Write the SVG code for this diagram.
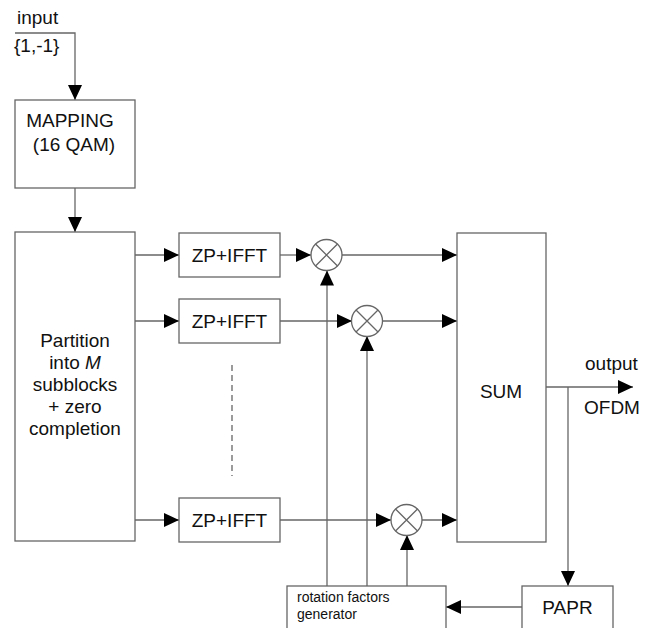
<svg xmlns="http://www.w3.org/2000/svg" width="650" height="628" viewBox="0 0 650 628">
  <defs>
    <marker id="arrow" markerUnits="userSpaceOnUse" markerWidth="15" markerHeight="14" refX="15" refY="7" orient="auto">
      <path d="M0,0 L15,7 L0,14 z" fill="#000"/>
    </marker>
    <style>
      .box { fill: #fff; stroke: #666; stroke-width: 1.3; }
      .wire { fill: none; stroke: #666; stroke-width: 1.3; }
      .arr { fill: none; stroke: #666; stroke-width: 1.3; marker-end: url(#arrow); }
      .dash { fill: none; stroke: #666; stroke-width: 1.3; stroke-dasharray: 6 4; }
      .lbl { font-family: "Liberation Sans", Arial, sans-serif; font-size: 19px; fill: #111; }
      .small { font-family: "Liberation Sans", Arial, sans-serif; font-size: 14px; fill: #111; }
      .mid { text-anchor: middle; }
    </style>
  </defs>

  <rect width="650" height="628" fill="#fff"/>

  <!-- connectors -->
  <g id="connectors">
    <path class="arr" d="M15,33 H75 V100"/>
    <path class="arr" d="M75,188 V232"/>
    <path class="arr" d="M135,255 H179"/>
    <path class="arr" d="M135,321 H179"/>
    <path class="arr" d="M135,520 H179"/>
    <path class="dash" d="M232,365 V476"/>
    <path class="arr" d="M280,255 H311"/>
    <path class="arr" d="M280,321 H352"/>
    <path class="arr" d="M280,520 H391"/>
    <path class="arr" d="M342,255 H457"/>
    <path class="arr" d="M382,321 H457"/>
    <path class="arr" d="M422,520 H457"/>
    <path class="arr" d="M327,586 V270.5"/>
    <path class="arr" d="M367,586 V336"/>
    <path class="arr" d="M407,586 V535"/>
    <path class="arr" d="M546,387 H633"/>
    <path class="arr" d="M568,387 V586"/>
    <path class="arr" d="M522,607 H446"/>
  </g>

  <!-- input labels -->
  <g id="input">
    <text class="lbl" x="17" y="24">input</text>
    <text class="lbl" x="14" y="52">{1,-1}</text>
  </g>

  <g id="mapping">
    <rect class="box" x="15" y="100" width="120" height="88"/>
    <text class="lbl mid" x="70" y="127">MAPPING</text>
    <text class="lbl mid" x="74" y="151">(16 QAM)</text>
  </g>

  <g id="partition">
    <rect class="box" x="15" y="232" width="120" height="309"/>
    <text class="lbl mid" x="75" y="347">Partition</text>
    <text class="lbl mid" x="75" y="369">into <tspan font-style="italic">M</tspan></text>
    <text class="lbl mid" x="75" y="391">subblocks</text>
    <text class="lbl mid" x="75" y="413">+ zero</text>
    <text class="lbl mid" x="75" y="435">completion</text>
  </g>

  <g id="ifft1">
    <rect class="box" x="179" y="233" width="101" height="44"/>
    <text class="lbl mid" x="229.5" y="262">ZP+IFFT</text>
  </g>
  <g id="ifft2">
    <rect class="box" x="179" y="299" width="101" height="44"/>
    <text class="lbl mid" x="229.5" y="328">ZP+IFFT</text>
  </g>
  <g id="ifft3">
    <rect class="box" x="179" y="498" width="101" height="44"/>
    <text class="lbl mid" x="229.5" y="527">ZP+IFFT</text>
  </g>

  <g id="mult1">
    <circle class="box" cx="326.5" cy="255" r="15.5"/>
    <path class="wire" d="M315.5,244 L337.5,266 M337.5,244 L315.5,266"/>
  </g>
  <g id="mult2">
    <circle class="box" cx="367" cy="321" r="15.5"/>
    <path class="wire" d="M356,310 L378,332 M378,310 L356,332"/>
  </g>
  <g id="mult3">
    <circle class="box" cx="406.5" cy="520" r="15.5"/>
    <path class="wire" d="M395.5,509 L417.5,531 M417.5,509 L395.5,531"/>
  </g>

  <g id="sum">
    <rect class="box" x="457" y="233" width="89" height="309"/>
    <text class="lbl mid" x="501" y="398">SUM</text>
  </g>

  <g id="output">
    <text class="lbl" x="585" y="370">output</text>
    <text class="lbl" x="584" y="414">OFDM</text>
  </g>

  <g id="rotation">
    <rect class="box" x="287" y="586" width="159" height="60"/>
    <text class="small" x="297" y="602">rotation factors</text>
    <text class="small" x="297" y="619">generator</text>
  </g>

  <g id="papr">
    <rect class="box" x="522" y="586" width="91" height="60"/>
    <text class="lbl mid" x="567.5" y="614">PAPR</text>
  </g>
</svg>
